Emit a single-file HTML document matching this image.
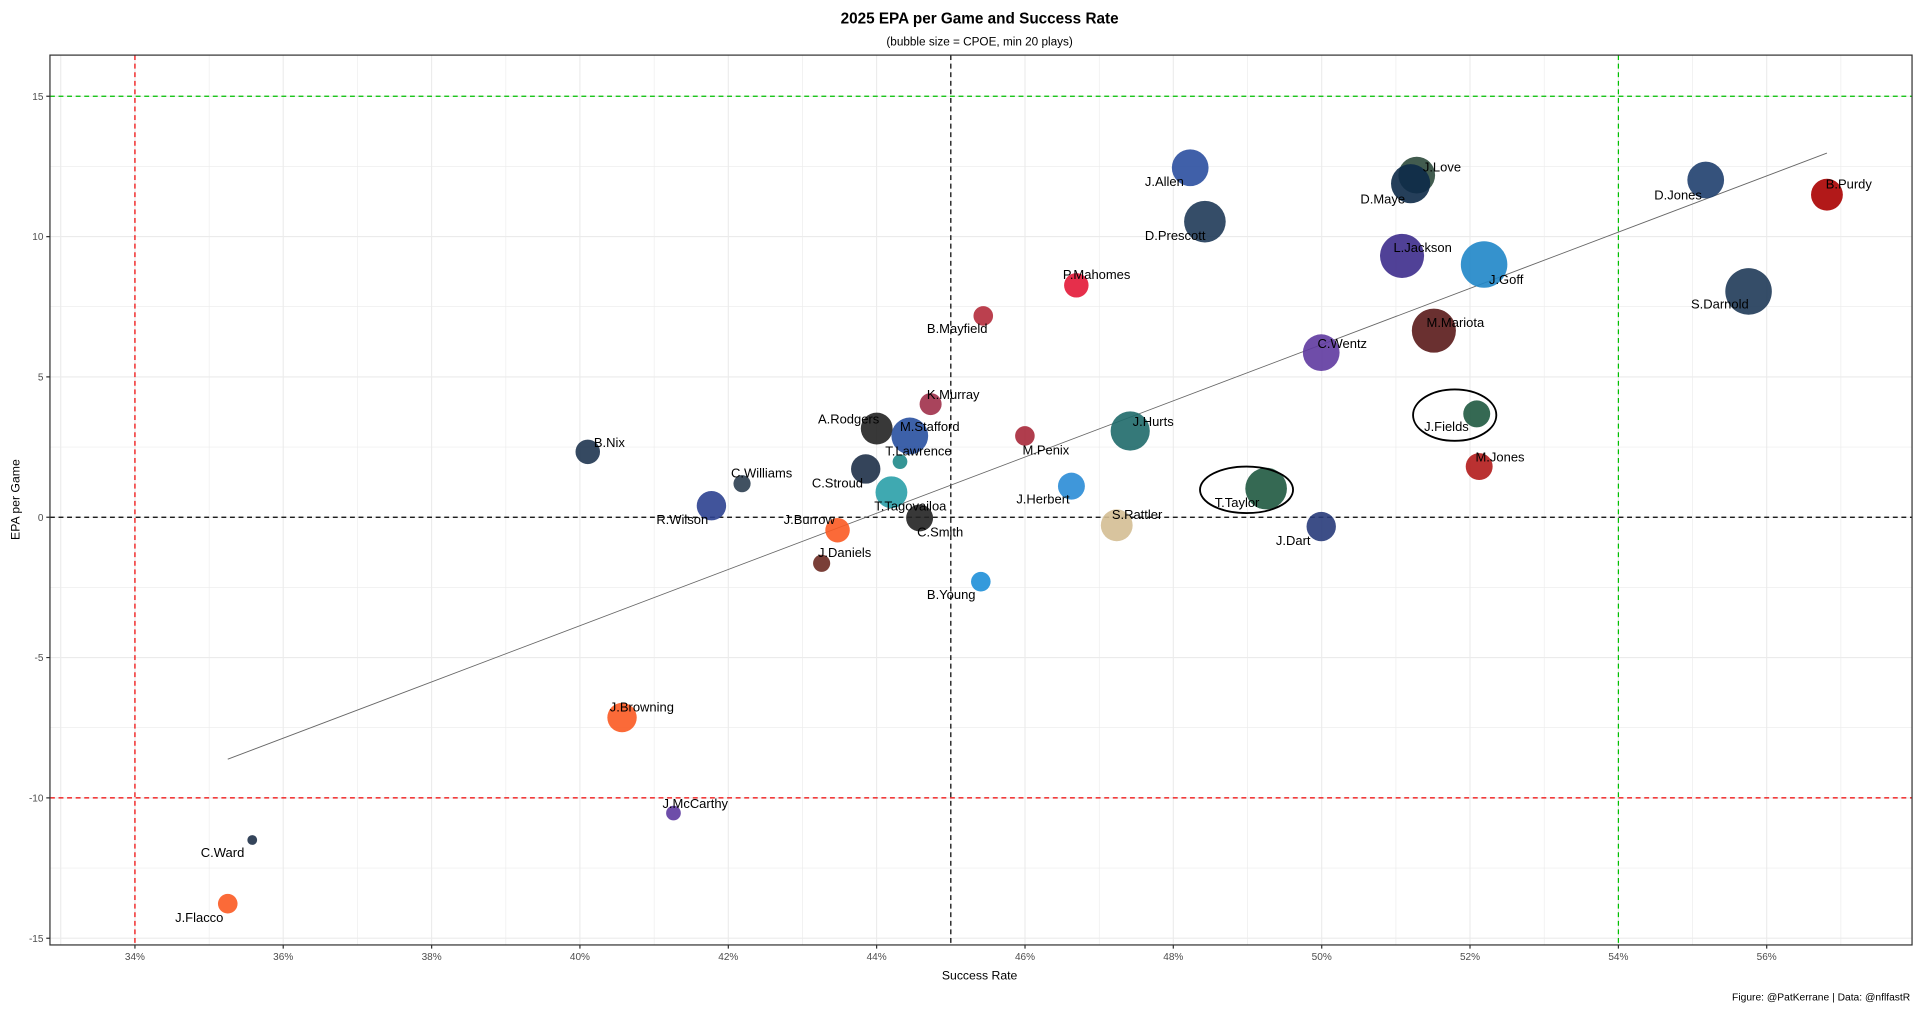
<!DOCTYPE html>
<html><head><meta charset="utf-8"><style>html,body{margin:0;padding:0;background:#fff}svg{display:block}text{font-family:"Liberation Sans",Arial,sans-serif}</style></head>
<body>
<svg width="1920" height="1009" viewBox="0 0 1568 824" preserveAspectRatio="none" xmlns="http://www.w3.org/2000/svg">
<rect width="1568" height="824" fill="#fff"/>
<g stroke="#ebebeb" fill="none">
<path stroke-width="0.5" d="M170.8 45V771.7M291.9 45V771.7M413.1 45V771.7M534.2 45V771.7M655.4 45V771.7M776.5 45V771.7M897.7 45V771.7M1018.8 45V771.7M1140 45V771.7M1261.1 45V771.7M1382.3 45V771.7M1503.4 45V771.7M40.8 135.9H1561.5M40.8 250.5H1561.5M40.8 365.1H1561.5M40.8 479.7H1561.5M40.8 594.3H1561.5M40.8 708.9H1561.5"/>
<path stroke-width="0.9" d="M49.6 45V771.7M110.2 45V771.7M231.3 45V771.7M352.5 45V771.7M473.6 45V771.7M594.8 45V771.7M715.9 45V771.7M837.1 45V771.7M958.2 45V771.7M1079.4 45V771.7M1200.5 45V771.7M1321.7 45V771.7M1442.8 45V771.7M40.8 78.6H1561.5M40.8 193.2H1561.5M40.8 307.8H1561.5M40.8 422.4H1561.5M40.8 537H1561.5M40.8 651.6H1561.5M40.8 766.2H1561.5"/>
</g>
<g stroke-dasharray="4,3" stroke-width="1">
<path stroke="#e00" d="M110.2 45V771.7M40.8 651.6H1561.5"/>
<path stroke="#00c000" d="M1321.7 45V771.7M40.8 78.6H1561.5"/>
<path stroke="#000" d="M776.5 45V771.7M40.8 422.4H1561.5"/>
</g>
<line x1="186" y1="620" x2="1492" y2="125" stroke="#666" stroke-width="0.7"/>
<g fill-opacity="0.9">
<circle cx="972" cy="137" r="15" fill="#2b4fa0"/>
<circle cx="1157" cy="143" r="15" fill="#2e4a3c"/>
<circle cx="1152" cy="150" r="16" fill="#0d2a48"/>
<circle cx="1492" cy="159" r="13" fill="#aa0000"/>
<circle cx="1393" cy="147" r="15" fill="#1f3f6e"/>
<circle cx="984" cy="181" r="17" fill="#1f3a58"/>
<circle cx="1145" cy="209" r="18" fill="#3d2c8c"/>
<circle cx="1212" cy="216" r="19" fill="#1f86c8"/>
<circle cx="1428" cy="238" r="19" fill="#1f3a58"/>
<circle cx="879" cy="233" r="10" fill="#e31837"/>
<circle cx="803" cy="258" r="8" fill="#b42b3b"/>
<circle cx="1171" cy="270" r="18" fill="#5a1a1a"/>
<circle cx="1079" cy="288" r="15" fill="#5f3aa0"/>
<circle cx="760" cy="330" r="9" fill="#a0304a"/>
<circle cx="1206" cy="338" r="11" fill="#1f5940"/>
<circle cx="716" cy="350" r="13" fill="#222"/>
<circle cx="743" cy="356" r="15" fill="#2850a0"/>
<circle cx="837" cy="356" r="8" fill="#a7283a"/>
<circle cx="923" cy="352" r="16" fill="#1f6a6a"/>
<circle cx="480" cy="369" r="10" fill="#1f3550"/>
<circle cx="735" cy="377" r="6" fill="#1f8a8a"/>
<circle cx="606" cy="395" r="7" fill="#2c3e50"/>
<circle cx="707" cy="383" r="12" fill="#1e3048"/>
<circle cx="1208" cy="381" r="11" fill="#b31b1b"/>
<circle cx="875" cy="397" r="11" fill="#2a8cd6"/>
<circle cx="1034" cy="399" r="17" fill="#1f5940"/>
<circle cx="728" cy="402" r="13" fill="#2aa0a8"/>
<circle cx="581" cy="413" r="12" fill="#2c4190"/>
<circle cx="751" cy="423" r="11" fill="#222"/>
<circle cx="912" cy="429" r="13" fill="#d4be94"/>
<circle cx="1079" cy="430" r="12" fill="#283b7a"/>
<circle cx="684" cy="433" r="10" fill="#fb5a22"/>
<circle cx="671" cy="460" r="7" fill="#6b2a22"/>
<circle cx="801" cy="475" r="8" fill="#1e8fd8"/>
<circle cx="508" cy="586" r="12" fill="#fb5a22"/>
<circle cx="550" cy="664" r="6" fill="#5d3aa0"/>
<circle cx="206" cy="686" r="4" fill="#1e3048"/>
<circle cx="186" cy="738" r="8" fill="#fb5a22"/>
</g>
<ellipse cx="1188" cy="339" rx="34" ry="21" fill="none" stroke="#000" stroke-width="1.5"/>
<ellipse cx="1018" cy="400" rx="38" ry="19" fill="none" stroke="#000" stroke-width="1.5"/>
<g font-size="10.6" fill="#000">
<text x="935" y="152">J.Allen</text>
<text x="1162" y="140">J.Love</text>
<text x="1111" y="166">D.Maye</text>
<text x="1491" y="154">B.Purdy</text>
<text x="1351" y="163">D.Jones</text>
<text x="935" y="196">D.Prescott</text>
<text x="1138" y="206">L.Jackson</text>
<text x="1216" y="232">J.Goff</text>
<text x="1381" y="252">S.Darnold</text>
<text x="868" y="228">P.Mahomes</text>
<text x="757" y="272">B.Mayfield</text>
<text x="1165" y="267">M.Mariota</text>
<text x="1076" y="284">C.Wentz</text>
<text x="757" y="326">K.Murray</text>
<text x="1163" y="352">J.Fields</text>
<text x="668" y="346">A.Rodgers</text>
<text x="735" y="352">M.Stafford</text>
<text x="835" y="371">M.Penix</text>
<text x="925" y="348">J.Hurts</text>
<text x="485" y="365">B.Nix</text>
<text x="723" y="372">T.Lawrence</text>
<text x="597" y="390">C.Williams</text>
<text x="663" y="398">C.Stroud</text>
<text x="1205" y="377">M.Jones</text>
<text x="830" y="411">J.Herbert</text>
<text x="992" y="414">T.Taylor</text>
<text x="714" y="417">T.Tagovailoa</text>
<text x="536" y="428">R.Wilson</text>
<text x="749" y="438">C.Smith</text>
<text x="908" y="424">S.Rattler</text>
<text x="1042" y="445">J.Dart</text>
<text x="640" y="428">J.Burrow</text>
<text x="668" y="455">J.Daniels</text>
<text x="757" y="489">B.Young</text>
<text x="498" y="581">J.Browning</text>
<text x="541" y="660">J.McCarthy</text>
<text x="164" y="700">C.Ward</text>
<text x="143" y="753">J.Flacco</text>
</g>
<rect x="40.8" y="45" width="1520.7" height="726.7" fill="none" stroke="#333" stroke-width="1"/>
<path stroke="#333" d="M110.2 771.7v3M231.3 771.7v3M352.5 771.7v3M473.6 771.7v3M594.8 771.7v3M715.9 771.7v3M837.1 771.7v3M958.2 771.7v3M1079.4 771.7v3M1200.5 771.7v3M1321.7 771.7v3M1442.8 771.7v3M37.8 78.6h3M37.8 193.2h3M37.8 307.8h3M37.8 422.4h3M37.8 537h3M37.8 651.6h3M37.8 766.2h3"/>
<g font-size="8.2" fill="#4d4d4d" text-anchor="middle">
<text x="110.2" y="784">34%</text><text x="231.3" y="784">36%</text><text x="352.5" y="784">38%</text><text x="473.6" y="784">40%</text><text x="594.8" y="784">42%</text><text x="715.9" y="784">44%</text><text x="837.1" y="784">46%</text><text x="958.2" y="784">48%</text><text x="1079.4" y="784">50%</text><text x="1200.5" y="784">52%</text><text x="1321.7" y="784">54%</text><text x="1442.8" y="784">56%</text>
</g>
<g font-size="8.2" fill="#4d4d4d" text-anchor="end">
<text x="35.5" y="81.6">15</text><text x="35.5" y="196.2">10</text><text x="35.5" y="310.8">5</text><text x="35.5" y="425.4">0</text><text x="35.5" y="540">-5</text><text x="35.5" y="654.6">-10</text><text x="35.5" y="769.2">-15</text>
</g>
<text x="800" y="19" font-size="12.5" font-weight="bold" text-anchor="middle">2025 EPA per Game and Success Rate</text>
<text x="800" y="37" font-size="9.6" text-anchor="middle">(bubble size = CPOE, min 20 plays)</text>
<text x="800" y="800" font-size="10" text-anchor="middle">Success Rate</text>
<text transform="translate(16,408) rotate(-90)" font-size="10" text-anchor="middle">EPA per Game</text>
<text x="1560" y="817" font-size="8.4" text-anchor="end">Figure: @PatKerrane | Data: @nflfastR</text>
</svg>
</body></html>
